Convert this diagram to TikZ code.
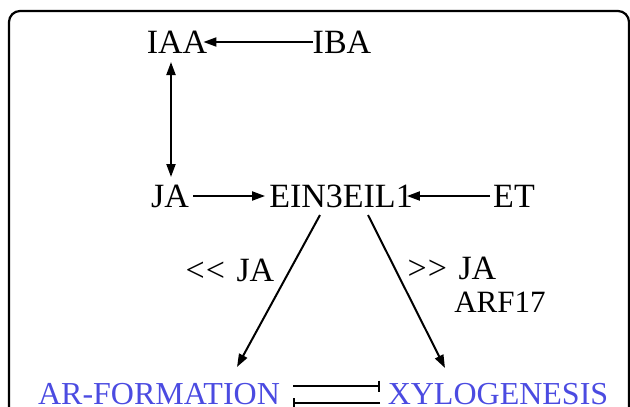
\documentclass[tikz,border=0pt]{standalone}
\usepackage{fontspec}
\setmainfont{Liberation Serif}[Ligatures=TeX]
\usetikzlibrary{arrows.meta,calc}
\definecolor{procblue}{RGB}{75,75,225}
\begin{document}
\begin{tikzpicture}[x=1pt,y=-1pt,
  lbl/.style={inner sep=0pt,font=\rmfamily\fontsize{34}{40}\selectfont},
  small/.style={inner sep=0pt,font=\rmfamily\fontsize{31}{36}\selectfont},
  proc/.style={inner sep=0pt,text=procblue,font=\rmfamily\fontsize{32}{38}\selectfont},
  arr/.style={line width=2pt,-{Triangle[length=13pt,width=9pt]}},
  darr/.style={line width=2pt,{Triangle[length=13pt,width=9pt]}-{Triangle[length=13pt,width=9pt]}},
  inh/.style={line width=2.2pt,-{Bar[width=11pt,line width=2.2pt]}},
  frame/.style={line width=2.2pt,rounded corners=11pt}]
\useasboundingbox (0,0) rectangle (630,407);
\draw[frame] (9,430) -- (9,11) -- (629,11) -- (629,430);
\node[lbl] (iaa) at (177,42) {IAA};
\node[lbl] (iba) at (342,42) {IBA};
\node[lbl] (ja) at (170,196) {JA};
\node[lbl] (ein) at (341,196) {EIN3EIL1};
\node[lbl] (et) at (514,196) {ET};
\node[lbl] (lja) at (230,270) {<\kern1pt<\hspace{3pt} JA};
\node[lbl] (rja) at (452,268) {>\kern1pt>\hspace{3pt} JA};
\node[small] (arf) at (500,302) {ARF17};
\node[proc] (ar) at (159,394) {AR-FORMATION};
\node[proc] (xy) at (498,394) {XYLOGENESIS};
\coordinate (l0) at (320,215);
\coordinate (l1) at (237,367);
\coordinate (r0) at (368,215);
\coordinate (r1) at (445,368);
\coordinate (t0) at (293,386);
\coordinate (t1) at (380,386);
\coordinate (b0) at (380,403);
\coordinate (b1) at (293,403);
\draw[arr] (iba.west) -- ([xshift=-4pt]iaa.east);
\draw[darr] (171,62) -- (171,177);
\draw[arr] ([xshift=4pt]ja.east) -- ([xshift=-4pt]ein.west);
\draw[arr] ([xshift=-3pt]et.west) -- ([xshift=-6pt]ein.east);
\draw[arr] (l0) -- (l1);
\draw[arr] (r0) -- (r1);
\draw[inh] (t0) -- (t1);
\draw[inh] (b0) -- (b1);
\end{tikzpicture}
\end{document}
